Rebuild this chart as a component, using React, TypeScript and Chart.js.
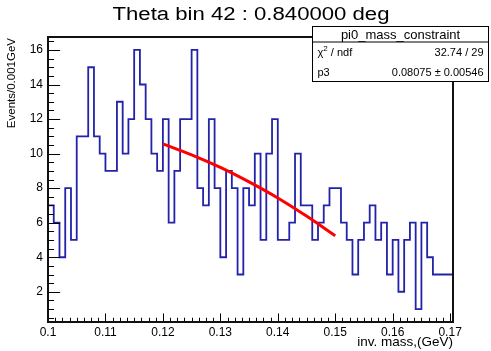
import React, { useEffect, useRef } from 'react';
import { Chart, registerables } from 'chart.js';

Chart.register(...registerables);

const TITLE = 'Theta bin 42 : 0.840000 deg';
const X_TITLE = 'inv. mass,(GeV)';
const Y_TITLE = 'Events/0.001GeV';
const STATS_NAME = 'pi0_mass_constraint';
const STATS_LABELS = ['ndf', 'p3'];
const STATS_VALUES = ['32.74 / 29', '0.08075 \u00b1 0.00546'];

// histogram: bin low edge = BIN_START + i * BIN_WIDTH
const BIN_START = 0.1;
const BIN_WIDTH = 0.001;
const counts = [
  11, 7, 6, 4, 8, 5, 11, 11, 15, 11,
  10, 9, 9, 13, 10, 12, 16, 14, 12, 10,
  9, 12, 6, 9, 12, 12, 16, 8, 7, 12,
  8, 4, 9, 8, 3, 8, 7, 10, 5, 10,
  12, 5, 5, 6, 10, 7, 7, 5, 6, 7,
  8, 8, 6, 5, 3, 5, 6, 7, 5, 6,
  3, 5, 2, 5, 6, 1, 6, 4, 3, 3,
  3,
];

// fit curve
const fitX = [0.12, 0.125, 0.13, 0.135, 0.14, 0.145, 0.15];
const fitY = [10.56, 9.93, 9.2, 8.36, 7.43, 6.38, 5.24];

const xMajorTicks = [0.1, 0.11, 0.12, 0.13, 0.14, 0.15, 0.16, 0.17];
const xTickLabels = ['0.1', '0.11', '0.12', '0.13', '0.14', '0.15', '0.16', '0.17'];
const yMajorTicks = [2, 4, 6, 8, 10, 12, 14, 16];
const yTickLabels = ['2', '4', '6', '8', '10', '12', '14', '16'];

const X_MIN = 0.1;
const X_MAX = 0.1705;
const Y_MIN = 0.25;
const Y_MAX = 16.75;
const X_MINOR_STEP = 0.00125;
const Y_MINOR_STEP = 0.5;

const FONT = '"Liberation Sans", Arial, Helvetica, sans-serif';

export default function App() {
  const ref = useRef<HTMLCanvasElement>(null);

  useEffect(() => {
    const canvas = ref.current;
    if (!canvas) return;

    const histData = counts.map((c, i) => ({ x: BIN_START + i * BIN_WIDTH, y: c }));
    histData.push({ x: BIN_START + counts.length * BIN_WIDTH, y: counts[counts.length - 1] });
    const fitData = fitX.map((x, i) => ({ x, y: fitY[i] }));

    const decor = {
      id: 'rootDecor',
      afterDatasetsDraw(chart: any) {
        const { ctx, chartArea: a, scales } = chart;
        const xs = scales.x;
        const ys = scales.y;
        const h = a.bottom - a.top;
        const w = a.right - a.left;
        ctx.save();
        ctx.strokeStyle = '#000';
        ctx.lineWidth = 1;
        ctx.beginPath();
        const xMajLen = 0.03 * h;
        for (let k = 0; X_MIN + k * X_MINOR_STEP <= X_MAX + 1e-9; k++) {
          const v = X_MIN + k * X_MINOR_STEP;
          const isMaj = xMajorTicks.some((m) => Math.abs(m - v) < 1e-7);
          const px = Math.round(xs.getPixelForValue(v)) + 0.5;
          const len = isMaj ? xMajLen : xMajLen / 2;
          ctx.moveTo(px, a.bottom);
          ctx.lineTo(px, a.bottom - len);
        }
        const yMajLen = 0.03 * w;
        for (let k = 0; k * Y_MINOR_STEP <= Y_MAX + 1e-9; k++) {
          const v = k * Y_MINOR_STEP;
          if (v < Y_MIN) continue;
          const isMaj = yMajorTicks.some((m) => Math.abs(m - v) < 1e-7);
          const py = Math.round(ys.getPixelForValue(v)) + 0.5;
          const len = isMaj ? yMajLen : yMajLen / 2;
          ctx.moveTo(a.left, py);
          ctx.lineTo(a.left + len, py);
        }
        ctx.stroke();
        ctx.lineWidth = 2;
        ctx.strokeStyle = '#111';
        ctx.strokeRect(a.left, a.top, w, h);
        ctx.restore();
      },
      afterDraw(chart: any) {
        const { ctx, chartArea: a } = chart;
        ctx.save();
        ctx.fillStyle = '#000';
        ctx.font = `18px ${FONT}`;
        ctx.textAlign = 'center';
        ctx.textBaseline = 'alphabetic';
        const tw = ctx.measureText(TITLE).width;
        const targetW = 277;
        ctx.save();
        ctx.translate(251, 20);
        ctx.scale(targetW / tw, 1);
        ctx.fillText(TITLE, 0, 0);
        ctx.restore();

        ctx.font = `13.5px ${FONT}`;
        ctx.textAlign = 'right';
        ctx.fillText(X_TITLE, a.right, 346);

        ctx.save();
        ctx.translate(15, a.top + 1);
        ctx.rotate(-Math.PI / 2);
        ctx.font = `11.5px ${FONT}`;
        ctx.textAlign = 'right';
        ctx.fillText(Y_TITLE, 0, 0);
        ctx.restore();

        const bx = 312.5, by = 26.5, bw = 176, bh = 55, hdr = 15.5;
        ctx.fillStyle = '#fff';
        ctx.fillRect(bx, by, bw, bh);
        ctx.strokeStyle = '#000';
        ctx.lineWidth = 1;
        ctx.strokeRect(bx, by, bw, bh);
        ctx.beginPath();
        ctx.moveTo(bx, by + hdr);
        ctx.lineTo(bx + bw, by + hdr);
        ctx.stroke();
        ctx.fillStyle = '#000';
        ctx.font = `13px ${FONT}`;
        ctx.textAlign = 'center';
        ctx.textBaseline = 'middle';
        ctx.fillText(STATS_NAME, bx + bw / 2, by + hdr / 2 + 1);

        const rowH = (bh - hdr) / 2;
        ctx.font = `11px ${FONT}`;
        let ry = by + hdr + rowH / 2 + 1;
        ctx.textAlign = 'left';
        let cx = bx + 5;
        ctx.fillText('\u03c7', cx, ry);
        cx += ctx.measureText('\u03c7').width;
        ctx.font = `8px ${FONT}`;
        ctx.fillText('2', cx, ry - 4);
        cx += ctx.measureText('2').width;
        ctx.font = `11px ${FONT}`;
        ctx.fillText(' / ' + STATS_LABELS[0], cx, ry);
        ctx.textAlign = 'right';
        ctx.fillText(STATS_VALUES[0], bx + bw - 5, ry);
        ry = by + hdr + rowH * 1.5 + 1;
        ctx.textAlign = 'left';
        ctx.fillText(STATS_LABELS[1], bx + 5, ry);
        ctx.textAlign = 'right';
        ctx.fillText(STATS_VALUES[1], bx + bw - 5, ry);
        ctx.restore();
      },
    };

    const chart = new Chart(canvas, {
      type: 'line',
      data: {
        datasets: [
          {
            label: 'fit',
            data: fitData,
            borderColor: '#ff0000',
            borderWidth: 3,
            pointRadius: 0,
            tension: 0.4,
            fill: false,
            order: 0,
          },
          {
            label: 'hist',
            data: histData,
            borderColor: '#2222aa',
            borderWidth: 1.8,
            pointRadius: 0,
            stepped: 'after',
            fill: false,
            order: 1,
          },
        ],
      },
      options: {
        responsive: false,
        animation: false,
        events: [],
        layout: { padding: { top: 37, right: 38, left: 0, bottom: 0 } },
        plugins: {
          legend: { display: false },
          title: { display: false },
          tooltip: { enabled: false },
        },
        scales: {
          x: {
            type: 'linear',
            min: X_MIN,
            max: X_MAX,
            grid: { display: false, drawTicks: false },
            border: { display: false },
            afterFit: (s: any) => { s.height = 29; },
            afterBuildTicks: (s: any) => { s.ticks = xMajorTicks.map((v) => ({ value: v })); },
            ticks: {
              padding: 3,
              maxRotation: 0,
              autoSkip: false,
              color: '#000',
              font: { family: FONT, size: 12 },
              callback: (_v: any, i: number) => xTickLabels[i],
            },
          },
          y: {
            type: 'linear',
            min: Y_MIN,
            max: Y_MAX,
            grid: { display: false, drawTicks: false },
            border: { display: false },
            afterFit: (s: any) => { s.width = 48; },
            afterBuildTicks: (s: any) => { s.ticks = yMajorTicks.map((v) => ({ value: v })); },
            ticks: {
              padding: 5,
              autoSkip: false,
              color: '#000',
              font: { family: FONT, size: 12 },
              callback: (_v: any, i: number) => yTickLabels[i],
            },
          },
        },
      },
      plugins: [decor],
    } as any);

    return () => chart.destroy();
  }, []);

  return (
    <div style={{ position: 'fixed', left: 0, top: 0, width: 491, height: 351, background: '#fff' }}>
      <canvas ref={ref} width={491} height={351} style={{ display: 'block' }} />
    </div>
  );
}
